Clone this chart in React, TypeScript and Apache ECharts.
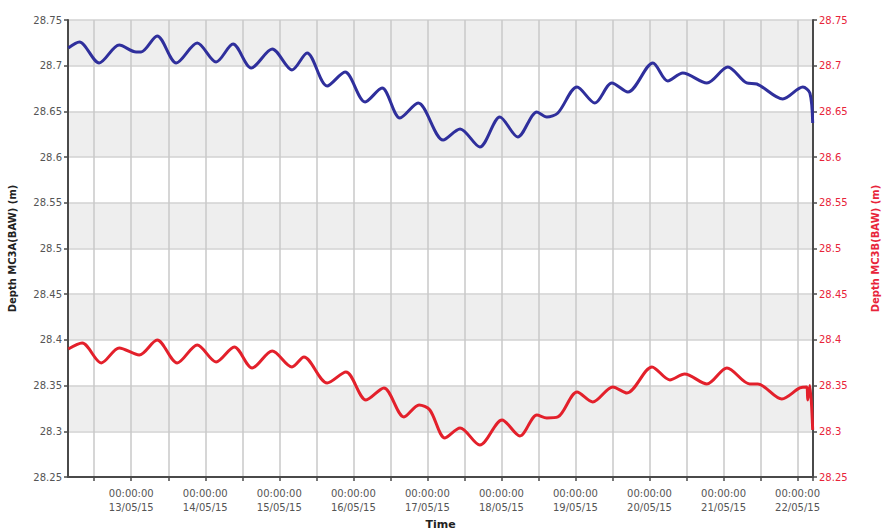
import React, { useEffect, useRef } from "react";
import * as echarts from "echarts";

// Axis range
const xMinTime = "2015-05-12 03:30";
const xMaxTime = "2015-05-22 05:00";
const yMin = 28.25;
const yMax = 28.75;
const yStep = 0.05;

const leftAxisTitle = "Depth MC3A(BAW) (m)";
const rightAxisTitle = "Depth MC3B(BAW) (m)";
const xAxisTitle = "Time";

// Blue series (MC3A)
const blueTimes = [
  "2015-05-12 03:36", "2015-05-12 07:12", "2015-05-12 13:36", "2015-05-12 20:06",
  "2015-05-13 01:36", "2015-05-13 03:12", "2015-05-13 08:24", "2015-05-13 14:36",
  "2015-05-13 21:24", "2015-05-14 03:30", "2015-05-14 09:00", "2015-05-14 14:54",
  "2015-05-14 21:42", "2015-05-15 04:06", "2015-05-15 09:00", "2015-05-15 15:30",
  "2015-05-15 21:18", "2015-05-16 03:48", "2015-05-16 09:18", "2015-05-16 15:06",
  "2015-05-16 21:00", "2015-05-17 05:06", "2015-05-17 10:36", "2015-05-17 17:00",
  "2015-05-17 23:30", "2015-05-18 05:18", "2015-05-18 11:30", "2015-05-18 14:42",
  "2015-05-18 18:18", "2015-05-19 00:30", "2015-05-19 06:18", "2015-05-19 11:48",
  "2015-05-19 17:00", "2015-05-20 01:06", "2015-05-20 05:54", "2015-05-20 10:48",
  "2015-05-20 18:36", "2015-05-21 01:24", "2015-05-21 07:30", "2015-05-21 10:48",
  "2015-05-21 19:12", "2015-05-22 01:42", "2015-05-22 04:00", "2015-05-22 04:54",
];
const blueValues = [
  28.7194, 28.7259, 28.703, 28.7226,
  28.715, 28.715, 28.7325, 28.703,
  28.7248, 28.704, 28.7237, 28.6975,
  28.7183, 28.6953, 28.7139, 28.6778,
  28.6931, 28.6603, 28.6756, 28.6428,
  28.6592, 28.6187, 28.6308, 28.6111,
  28.6439, 28.622, 28.6494, 28.6439,
  28.6483, 28.6767, 28.6592, 28.6811,
  28.6712, 28.703, 28.6833, 28.692,
  28.6811, 28.6986, 28.6811, 28.68,
  28.6636, 28.6767, 28.6701, 28.6373,
];

// Red series (MC3B)
const redTimes = [
  "2015-05-12 03:36", "2015-05-12 08:06", "2015-05-12 14:18", "2015-05-12 20:06",
  "2015-05-13 02:36", "2015-05-13 08:24", "2015-05-13 14:54", "2015-05-13 21:24",
  "2015-05-14 03:30", "2015-05-14 09:24", "2015-05-14 15:12", "2015-05-14 21:42",
  "2015-05-15 04:06", "2015-05-15 08:00", "2015-05-15 15:30", "2015-05-15 21:36",
  "2015-05-16 04:06", "2015-05-16 09:54", "2015-05-16 16:24", "2015-05-16 21:18",
  "2015-05-17 00:48", "2015-05-17 05:42", "2015-05-17 10:36", "2015-05-17 17:00",
  "2015-05-18 00:12", "2015-05-18 06:00", "2015-05-18 11:30", "2015-05-18 14:42",
  "2015-05-18 18:18", "2015-05-19 00:30", "2015-05-19 05:36", "2015-05-19 12:06",
  "2015-05-19 16:42", "2015-05-20 00:48", "2015-05-20 06:36", "2015-05-20 11:24",
  "2015-05-20 18:36", "2015-05-21 01:06", "2015-05-21 08:30", "2015-05-21 11:06",
  "2015-05-21 18:54", "2015-05-22 00:42", "2015-05-22 03:00", "2015-05-22 03:18",
  "2015-05-22 04:00", "2015-05-22 04:54",
];
const redValues = [
  28.3901, 28.3966, 28.3748, 28.3912,
  28.3835, 28.3999, 28.3748, 28.3944,
  28.3759, 28.3923, 28.3693, 28.3879,
  28.3704, 28.3813, 28.3529, 28.3649,
  28.3343, 28.3474, 28.3157, 28.3288,
  28.3233, 28.2927, 28.3036, 28.285,
  28.3124, 28.2949, 28.3179, 28.3146,
  28.3157, 28.343, 28.3321, 28.3485,
  28.3419, 28.3704, 28.3562, 28.3627,
  28.3518, 28.3693, 28.3518, 28.3518,
  28.3354, 28.3474, 28.3485, 28.3343,
  28.35, 28.3015,
];

const BASE = Date.UTC(2015, 4, 13, 0, 0);
const DAY = 86400000;

function toDays(s: string): number {
  const [d, t] = s.split(" ");
  const [Y, M, D] = d.split("-").map(Number);
  const [h, m] = t.split(":").map(Number);
  return (Date.UTC(Y, M - 1, D, h, m) - BASE) / DAY;
}

function pad(n: number) {
  return n < 10 ? "0" + n : "" + n;
}

function fmtTick(v: number): string {
  const r = Math.round(v);
  if (Math.abs(v - r) > 1e-6) return "";
  const dt = new Date(BASE + r * DAY);
  return (
    "00:00:00\n" +
    pad(dt.getUTCDate()) + "/" + pad(dt.getUTCMonth() + 1) + "/" + pad(dt.getUTCFullYear() % 100)
  );
}

const FONT = "DejaVu Sans, Arial, sans-serif";

export default function App() {
  const ref = useRef<HTMLDivElement>(null);
  useEffect(() => {
    if (!ref.current) return;
    const chart = echarts.init(ref.current, undefined, { renderer: "svg" });
    const blueData = blueTimes.map((t, i) => [toDays(t), blueValues[i]]);
    const redData = redTimes.map((t, i) => [toDays(t), redValues[i]]);
    const axisLineColor = "#4a4a4a";
    const red = "#e8243a";
    chart.setOption({
      animation: false,
      backgroundColor: "#ffffff",
      textStyle: { fontFamily: FONT },
      grid: {
        left: 68,
        right: 72,
        top: 20,
        bottom: 53,
        containLabel: false,
        outerBoundsMode: "none",
      },
      xAxis: {
        type: "value",
        min: toDays(xMinTime),
        max: toDays(xMaxTime),
        splitNumber: 20,
        minInterval: 0.5,
        maxInterval: 0.5,
        name: xAxisTitle,
        nameLocation: "middle",
        nameGap: 42,
        nameTextStyle: { fontFamily: FONT, fontSize: 11, fontWeight: "bold", color: "#222" },
        axisLine: { show: true, onZero: false, lineStyle: { color: axisLineColor, width: 2 } },
        axisTick: { show: true, length: 4, inside: false, lineStyle: { color: axisLineColor, width: 1.5 } },
        axisLabel: {
          show: true,
          formatter: (v: number) => fmtTick(v),
          fontFamily: FONT,
          fontSize: 10,
          color: "#555",
          lineHeight: 14,
          margin: 9,
          showMinLabel: false,
          showMaxLabel: true,
          hideOverlap: false,
        },
        splitLine: { show: true, lineStyle: { color: "#c9c9c9", width: 1.5 } },
      },
      yAxis: [
        {
          type: "value",
          position: "left",
          min: yMin,
          max: yMax,
          interval: yStep,
          name: leftAxisTitle,
          nameLocation: "middle",
          nameGap: 51,
          nameRotate: 90,
          nameTextStyle: { fontFamily: FONT, fontSize: 10, fontWeight: "bold", color: "#222" },
          axisLine: { show: true, onZero: false, lineStyle: { color: axisLineColor, width: 2 } },
          axisTick: { show: true, length: 4, lineStyle: { color: axisLineColor, width: 1.5 } },
          axisLabel: {
            fontFamily: FONT,
            fontSize: 10,
            color: "#555",
            margin: 6,
            formatter: (v: number) => String(+v.toFixed(2)),
          },
          splitLine: { show: true, lineStyle: { color: "#d2d2d2", width: 1.5 } },
          splitArea: { show: true, areaStyle: { color: ["#ffffff", "#eeeeee"] } },
        },
        {
          type: "value",
          position: "right",
          min: yMin,
          max: yMax,
          interval: yStep,
          name: rightAxisTitle,
          nameLocation: "middle",
          nameGap: 57,
          nameRotate: 90,
          nameTextStyle: { fontFamily: FONT, fontSize: 10, fontWeight: "bold", color: red },
          axisLine: { show: true, onZero: false, lineStyle: { color: axisLineColor, width: 2 } },
          axisTick: { show: true, length: 4, lineStyle: { color: axisLineColor, width: 1.5 } },
          axisLabel: {
            fontFamily: FONT,
            fontSize: 10,
            color: red,
            margin: 6,
            formatter: (v: number) => String(+v.toFixed(2)),
          },
          splitLine: { show: false },
          splitArea: { show: false },
        },
      ],
      series: [
        {
          name: leftAxisTitle,
          type: "line",
          yAxisIndex: 0,
          data: blueData,
          showSymbol: false,
          smooth: 0.3,
          lineStyle: { color: "#2f2f9c", width: 3 },
          itemStyle: { color: "#2f2f9c" },
          z: 3,
        },
        {
          name: rightAxisTitle,
          type: "line",
          yAxisIndex: 1,
          data: redData,
          showSymbol: false,
          smooth: 0.3,
          lineStyle: { color: "#e3202b", width: 3 },
          itemStyle: { color: "#e3202b" },
          z: 3,
        },
      ],
    });
    return () => chart.dispose();
  }, []);
  return (
    <div
      ref={ref}
      style={{ position: "fixed", left: 0, top: 0, width: 885, height: 530, background: "#fff" }}
    />
  );
}
